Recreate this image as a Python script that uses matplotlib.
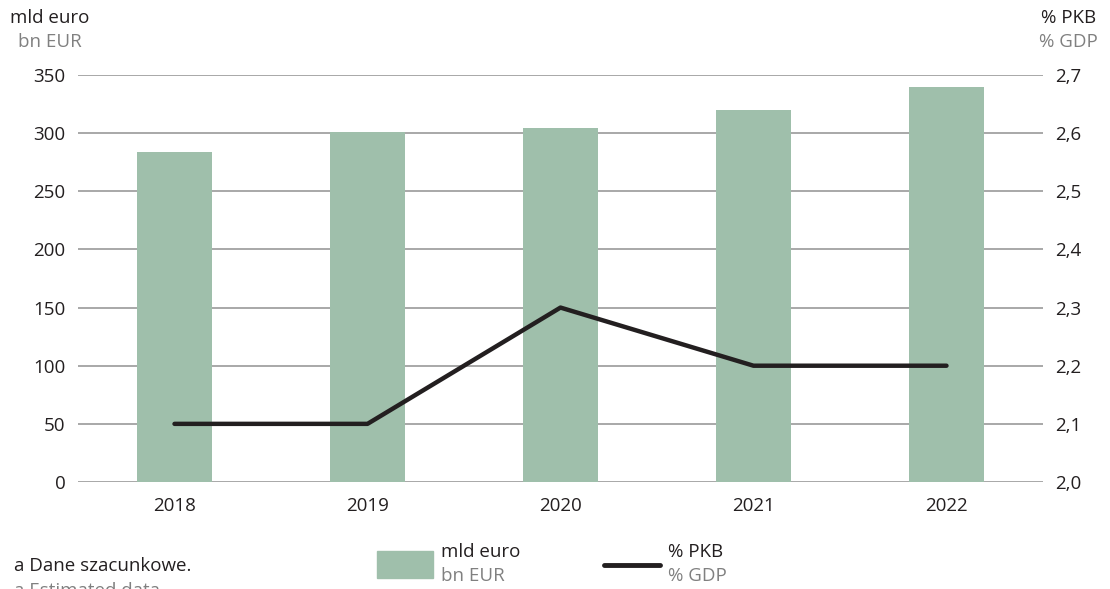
import matplotlib.pyplot as plt
from matplotlib.patches import Rectangle
from matplotlib.lines import Line2D

plt.rcParams['font.family'] = ['Open Sans', 'DejaVu Sans']

years = ['2018', '2019', '2020', '2021', '2022']
mld_euro = [284, 301, 304, 320, 340]
pkb_pct = [2.1, 2.1, 2.3, 2.2, 2.2]

left_ticks = [0, 50, 100, 150, 200, 250, 300, 350]
right_ticks = [2.0, 2.1, 2.2, 2.3, 2.4, 2.5, 2.6, 2.7]
right_labels = ['2,0', '2,1', '2,2', '2,3', '2,4', '2,5', '2,6', '2,7']

green = '#9fbfab'
dark = '#231f20'
grey = '#808080'

W, H = 1110, 589
fig = plt.figure(figsize=(W / 100, H / 100), dpi=100)
ax = fig.add_axes([78 / W, 1 - 482 / H, (1043 - 78) / W, (482 - 75) / H])
ax2 = ax.twinx()

x = range(len(years))
for yv in left_ticks:
    ax.axhline(yv, color='#9a9a9a', lw=1.2, zorder=1)
ax.bar(x, mld_euro, width=0.39, color=green, zorder=2)
ax.set_xlim(-0.5, 4.5)
ax.set_ylim(0, 350)
ax.set_yticks(left_ticks)
ax.set_xticks(list(x))
ax.set_xticklabels(years)

ax2.plot(x, pkb_pct, color=dark, lw=3.2, solid_capstyle='round', zorder=3)
ax2.set_ylim(2.0, 2.7)
ax2.set_yticks(right_ticks)
ax2.set_yticklabels(right_labels)

fs = 13.5
for a in (ax, ax2):
    for s in a.spines.values():
        s.set_visible(False)
    a.tick_params(length=0, labelsize=fs, colors='#231f20')
ax.tick_params(axis='y', pad=9)
ax.tick_params(axis='x', pad=11)
ax2.tick_params(axis='y', pad=9)

fig.text(10 / W, 1 - 18 / H, 'mld euro', fontsize=fs, color=dark, va='center')
fig.text(18 / W, 1 - 42 / H, 'bn EUR', fontsize=fs, color=grey, va='center')
fig.text(1096 / W, 1 - 18 / H, '% PKB', fontsize=fs, color=dark, va='center', ha='right')
fig.text(1098 / W, 1 - 42 / H, '% GDP', fontsize=fs, color=grey, va='center', ha='right')

fig.text(14 / W, 1 - 566 / H, 'a Dane szacunkowe.', fontsize=fs, color=dark, va='center')
fig.text(14 / W, 1 - 591 / H, 'a Estimated data', fontsize=fs, color=grey, va='center')

# legend
fig.patches.append(Rectangle((377 / W, 1 - 578 / H), 56 / W, 27 / H,
                             transform=fig.transFigure, color=green))
fig.text(441 / W, 1 - 552 / H, 'mld euro', fontsize=fs, color=dark, va='center')
fig.text(441 / W, 1 - 576 / H, 'bn EUR', fontsize=fs, color=grey, va='center')
fig.lines.append(Line2D([604 / W, 660 / W], [1 - 565 / H, 1 - 565 / H],
                        transform=fig.transFigure, color=dark, lw=3.5,
                        solid_capstyle='round'))
fig.text(668 / W, 1 - 552 / H, '% PKB', fontsize=fs, color=dark, va='center')
fig.text(668 / W, 1 - 576 / H, '% GDP', fontsize=fs, color=grey, va='center')

fig.savefig('out.png', dpi=100)
